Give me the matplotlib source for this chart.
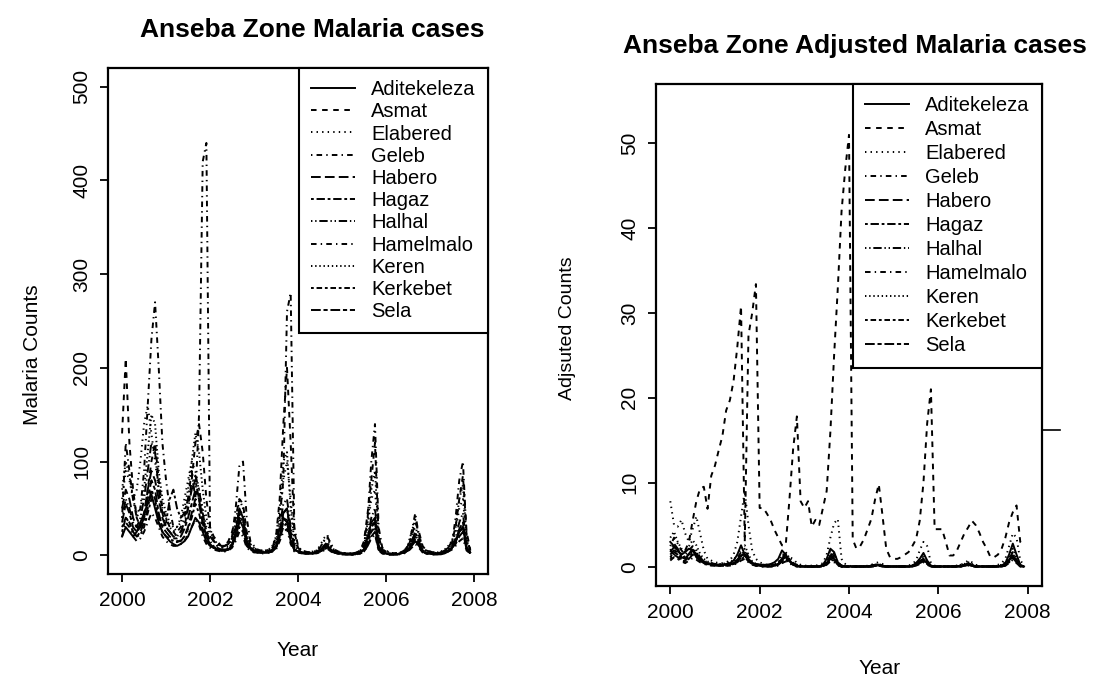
import matplotlib
matplotlib.use("Agg")
import matplotlib.pyplot as plt
from matplotlib.lines import Line2D

plt.rcParams['font.family'] = ['Liberation Sans', 'DejaVu Sans']
plt.rcParams['lines.scale_dashes'] = False

ZONES = ["Aditekeleza", "Asmat", "Elabered", "Geleb", "Habero", "Hagaz",
         "Halhal", "Hamelmalo", "Keren", "Kerkebet", "Sela"]
MONTHS = [2000 + i / 12 for i in range(96)]  # monthly, Jan 2000 - Dec 2007
YEAR_TICKS = [2000, 2002, 2004, 2006, 2008]

# ---- raw malaria counts (one row per year, Jan..Dec) ----
cases_aditekeleza = [20, 30, 25, 20, 25, 35, 45, 55, 65, 50, 35, 25,
                     20, 15, 12, 10, 12, 15, 20, 30, 40, 35, 25, 15,
                     10, 8, 6, 5, 5, 6, 10, 25, 50, 40, 15, 8,
                     5, 4, 3, 3, 3, 4, 8, 20, 40, 35, 15, 6,
                     4, 3, 2, 2, 2, 3, 5, 8, 10, 6, 3, 2,
                     2, 1, 1, 1, 2, 3, 6, 20, 35, 40, 10, 4,
                     2, 1, 1, 1, 2, 3, 5, 10, 15, 10, 4, 2,
                     2, 1, 1, 1, 2, 4, 8, 15, 25, 30, 8, 3]
cases_asmat = [130, 210, 120, 70, 40, 30, 40, 70, 100, 120, 80, 50,
               40, 30, 25, 20, 25, 30, 50, 80, 120, 140, 110, 60,
               30, 20, 15, 10, 10, 15, 25, 40, 60, 55, 25, 10,
               8, 5, 4, 4, 5, 8, 20, 60, 140, 200, 120, 25,
               8, 4, 3, 3, 3, 4, 6, 10, 12, 8, 4, 3,
               2, 2, 2, 2, 3, 5, 15, 45, 80, 120, 20, 6,
               4, 3, 2, 2, 3, 5, 8, 20, 35, 25, 10, 5,
               4, 3, 3, 3, 4, 8, 15, 30, 60, 85, 25, 6]
cases_elabered = [60, 90, 80, 60, 70, 100, 140, 160, 130, 100, 70, 50,
                  40, 30, 25, 30, 40, 60, 80, 100, 90, 70, 50, 30,
                  20, 15, 10, 8, 8, 10, 15, 30, 50, 40, 20, 10,
                  6, 5, 4, 4, 5, 8, 15, 35, 80, 100, 60, 15,
                  6, 4, 3, 3, 3, 5, 10, 18, 22, 10, 4, 3,
                  2, 2, 2, 2, 2, 4, 10, 30, 60, 70, 15, 5,
                  3, 2, 2, 2, 3, 5, 10, 20, 30, 20, 8, 4,
                  3, 2, 2, 3, 4, 8, 12, 25, 50, 60, 15, 5]
cases_geleb = [40, 120, 90, 60, 40, 50, 90, 160, 230, 270, 200, 120,
               80, 50, 30, 25, 30, 40, 60, 90, 60, 150, 420, 440,
               30, 15, 10, 8, 10, 12, 20, 50, 95, 100, 40, 15,
               10, 6, 5, 5, 6, 8, 15, 40, 80, 260, 280, 30,
               10, 5, 4, 3, 3, 5, 8, 15, 20, 12, 6, 4,
               3, 2, 2, 2, 3, 5, 10, 40, 100, 140, 30, 8,
               5, 3, 2, 2, 3, 5, 10, 25, 45, 20, 8, 5,
               4, 3, 2, 2, 3, 6, 12, 40, 80, 100, 20, 5]
cases_habero = [50, 70, 60, 40, 30, 30, 45, 70, 90, 80, 60, 40,
                30, 25, 20, 15, 15, 20, 30, 45, 60, 55, 35, 20,
                12, 8, 6, 5, 5, 6, 10, 20, 35, 30, 12, 6,
                4, 3, 3, 3, 3, 5, 10, 25, 45, 50, 25, 8,
                4, 3, 2, 2, 2, 3, 5, 8, 10, 6, 3, 2,
                2, 1, 1, 1, 2, 3, 6, 15, 30, 35, 8, 3,
                2, 1, 1, 1, 2, 3, 5, 12, 20, 12, 4, 2,
                2, 1, 1, 2, 3, 5, 8, 12, 20, 25, 6, 2]
cases_hagaz = [30, 40, 35, 25, 20, 25, 35, 50, 70, 60, 40, 30,
               35, 60, 70, 50, 40, 45, 60, 70, 80, 60, 40, 25,
               20, 15, 12, 10, 10, 12, 18, 30, 45, 35, 15, 8,
               5, 4, 3, 3, 3, 5, 8, 18, 30, 35, 20, 6,
               4, 3, 2, 2, 2, 3, 4, 6, 8, 5, 3, 2,
               2, 1, 1, 1, 1, 2, 4, 10, 20, 25, 6, 2,
               2, 1, 1, 1, 2, 3, 6, 15, 25, 15, 5, 2,
               2, 2, 2, 3, 5, 8, 10, 15, 25, 30, 8, 3]
cases_halhal = [40, 60, 50, 35, 30, 40, 60, 90, 120, 110, 70, 45,
                30, 25, 20, 20, 25, 35, 50, 70, 85, 70, 45, 25,
                15, 10, 8, 6, 6, 8, 12, 25, 40, 35, 15, 8,
                5, 4, 3, 3, 4, 6, 12, 30, 55, 60, 30, 10,
                5, 3, 2, 2, 2, 3, 5, 10, 14, 8, 3, 2,
                2, 1, 1, 1, 2, 3, 8, 20, 40, 50, 10, 3,
                2, 2, 1, 1, 2, 4, 8, 15, 22, 14, 5, 3,
                2, 2, 2, 3, 4, 6, 10, 18, 35, 45, 10, 3]
cases_hamelmalo = [20, 35, 30, 20, 15, 18, 25, 35, 45, 40, 30, 20,
                   15, 12, 10, 10, 12, 15, 22, 30, 38, 32, 20, 12,
                   8, 6, 5, 4, 4, 5, 8, 15, 25, 20, 8, 5,
                   3, 3, 2, 2, 3, 4, 6, 15, 25, 28, 12, 4,
                   3, 2, 2, 2, 2, 2, 3, 5, 7, 4, 2, 2,
                   1, 1, 1, 1, 1, 2, 4, 10, 18, 22, 5, 2,
                   1, 1, 1, 1, 1, 2, 4, 8, 12, 8, 3, 2,
                   1, 1, 1, 2, 3, 4, 6, 10, 15, 18, 5, 2]
cases_keren = [70, 100, 85, 60, 45, 50, 70, 110, 150, 140, 90, 60,
               45, 35, 30, 30, 35, 50, 70, 100, 130, 110, 70, 40,
               25, 18, 12, 10, 10, 12, 18, 35, 60, 50, 22, 12,
               8, 6, 5, 5, 6, 10, 20, 50, 100, 110, 50, 15,
               7, 5, 4, 3, 4, 5, 8, 15, 18, 10, 5, 3,
               3, 2, 2, 2, 3, 5, 12, 35, 70, 90, 20, 6,
               4, 3, 2, 2, 3, 5, 10, 25, 38, 22, 8, 4,
               3, 3, 3, 4, 6, 10, 15, 30, 60, 75, 18, 5]
cases_kerkebet = [25, 40, 35, 25, 20, 22, 30, 45, 60, 55, 35, 25,
                  20, 18, 15, 14, 16, 20, 28, 40, 55, 45, 28, 16,
                  10, 8, 6, 5, 5, 6, 10, 18, 30, 25, 10, 6,
                  4, 3, 3, 3, 3, 5, 8, 20, 35, 40, 18, 5,
                  3, 2, 2, 2, 2, 3, 4, 6, 8, 5, 2, 2,
                  1, 1, 1, 1, 2, 2, 5, 12, 25, 30, 6, 2,
                  2, 1, 1, 1, 2, 3, 5, 10, 16, 10, 4, 2,
                  2, 1, 2, 2, 3, 5, 8, 14, 25, 30, 7, 2]
cases_sela = [35, 55, 45, 30, 25, 30, 40, 60, 80, 70, 45, 30,
              25, 20, 18, 18, 20, 28, 40, 55, 70, 60, 35, 20,
              12, 9, 7, 6, 6, 7, 12, 22, 38, 30, 12, 7,
              4, 3, 3, 3, 4, 6, 10, 25, 45, 50, 22, 6,
              4, 3, 2, 2, 2, 3, 5, 8, 10, 6, 3, 2,
              2, 1, 1, 1, 2, 3, 6, 15, 30, 38, 8, 3,
              2, 1, 1, 1, 2, 3, 6, 12, 18, 12, 4, 2,
              2, 2, 2, 2, 3, 5, 8, 15, 28, 35, 8, 2]

# ---- adjusted counts ----
adj_aditekeleza = [3.0, 2.5, 2.0, 1.5, 1.8, 2.2, 2.0, 1.2, 0.8, 0.6, 0.5, 0.4,
                   0.3, 0.3, 0.3, 0.4, 0.5, 0.8, 1.5, 2.6, 1.5, 0.8, 0.5, 0.4,
                   0.3, 0.3, 0.3, 0.4, 0.6, 1.0, 2.0, 1.5, 0.8, 0.4, 0.2, 0.1,
                   0.1, 0.1, 0.1, 0.1, 0.1, 0.3, 1.0, 2.2, 1.8, 0.6, 0.2, 0.1,
                   0.1, 0.1, 0.1, 0.1, 0.1, 0.1, 0.2, 0.3, 0.3, 0.2, 0.1, 0.1,
                   0.1, 0.1, 0.1, 0.1, 0.1, 0.2, 0.5, 1.0, 1.7, 0.8, 0.2, 0.1,
                   0.1, 0.1, 0.1, 0.1, 0.1, 0.1, 0.2, 0.3, 0.5, 0.3, 0.1, 0.1,
                   0.1, 0.1, 0.1, 0.1, 0.1, 0.2, 0.5, 1.5, 2.8, 1.5, 0.3, 0.1]
adj_asmat = [2.0, 1.5, 1.0, 1.5, 2.0, 3.0, 5.5, 7.8, 9.3, 9.5, 6.9, 10.8,
             12.0, 13.8, 15.5, 18.5, 19.7, 22.0, 26.0, 30.8, 3.0, 27.4, 30.0, 33.4,
             7.0, 7.0, 6.3, 5.5, 4.4, 3.5, 2.6, 2.6, 8.0, 14.0, 17.8, 7.8,
             7.0, 7.8, 4.8, 5.6, 5.0, 7.0, 9.0, 16.0, 25.0, 33.0, 42.0, 47.0,
             51.0, 3.3, 2.2, 2.5, 3.3, 4.5, 5.7, 8.0, 9.8, 6.1, 2.2, 1.2,
             1.0, 1.0, 1.2, 1.5, 1.8, 2.5, 3.3, 5.5, 10.0, 17.0, 21.0, 4.5,
             4.5, 4.5, 3.0, 1.4, 1.4, 2.0, 3.0, 4.0, 4.7, 5.5, 5.0, 4.1,
             3.0, 2.2, 1.2, 1.2, 1.5, 2.2, 3.5, 5.3, 6.5, 7.3, 3.0, 2.5]
adj_elabered = [7.8, 5.0, 4.8, 5.6, 4.0, 3.0, 4.5, 6.0, 4.0, 2.0, 1.0, 0.8,
                0.6, 0.5, 0.5, 0.6, 0.8, 1.5, 3.0, 6.0, 9.0, 5.0, 2.0, 1.0,
                0.6, 0.4, 0.3, 0.3, 0.3, 0.4, 0.5, 0.8, 1.2, 1.0, 0.5, 0.3,
                0.2, 0.2, 0.2, 0.2, 0.3, 0.5, 1.5, 3.5, 5.2, 5.7, 1.0, 0.4,
                0.2, 0.1, 0.1, 0.1, 0.1, 0.2, 0.3, 0.5, 0.6, 0.4, 0.2, 0.1,
                0.1, 0.1, 0.1, 0.1, 0.2, 0.4, 0.8, 2.0, 3.0, 2.5, 0.5, 0.2,
                0.1, 0.1, 0.1, 0.1, 0.1, 0.2, 0.3, 0.5, 0.8, 0.6, 0.3, 0.2,
                0.1, 0.1, 0.1, 0.2, 0.3, 0.5, 1.0, 2.5, 4.0, 3.5, 0.8, 0.3]
adj_geleb = [2.5, 3.5, 2.8, 2.0, 1.5, 2.0, 2.5, 2.0, 1.2, 0.8, 0.6, 0.5,
             0.4, 0.3, 0.3, 0.3, 0.4, 0.6, 1.0, 1.8, 2.2, 1.2, 0.6, 0.4,
             0.3, 0.2, 0.2, 0.2, 0.3, 0.5, 1.2, 1.6, 1.0, 0.5, 0.3, 0.2,
             0.1, 0.1, 0.1, 0.1, 0.1, 0.2, 0.6, 1.6, 1.4, 0.5, 0.2, 0.1,
             0.1, 0.1, 0.1, 0.1, 0.1, 0.1, 0.2, 0.3, 0.3, 0.2, 0.1, 0.1,
             0.1, 0.1, 0.1, 0.1, 0.1, 0.2, 0.4, 0.8, 1.2, 0.6, 0.2, 0.1,
             0.1, 0.1, 0.1, 0.1, 0.1, 0.1, 0.2, 0.3, 0.4, 0.3, 0.1, 0.1,
             0.1, 0.1, 0.1, 0.1, 0.1, 0.2, 0.4, 1.0, 1.8, 1.0, 0.2, 0.1]
adj_habero = [1.5, 2.0, 1.8, 1.2, 1.0, 1.4, 2.0, 1.6, 1.0, 0.6, 0.4, 0.3,
              0.3, 0.2, 0.2, 0.3, 0.3, 0.5, 0.8, 1.4, 1.6, 0.9, 0.5, 0.3,
              0.2, 0.2, 0.2, 0.2, 0.2, 0.4, 0.9, 1.2, 0.7, 0.4, 0.2, 0.1,
              0.1, 0.1, 0.1, 0.1, 0.1, 0.2, 0.5, 1.2, 1.0, 0.4, 0.1, 0.1,
              0.1, 0.1, 0.1, 0.1, 0.1, 0.1, 0.1, 0.2, 0.2, 0.1, 0.1, 0.1,
              0.1, 0.1, 0.1, 0.1, 0.1, 0.1, 0.3, 0.6, 0.9, 0.5, 0.1, 0.1,
              0.1, 0.1, 0.1, 0.1, 0.1, 0.1, 0.1, 0.2, 0.3, 0.2, 0.1, 0.1,
              0.1, 0.1, 0.1, 0.1, 0.1, 0.1, 0.3, 0.8, 1.4, 0.8, 0.2, 0.1]
adj_hagaz = [1.0, 1.5, 1.2, 0.8, 0.7, 1.0, 1.5, 1.2, 0.8, 0.5, 0.3, 0.3,
             0.2, 0.2, 0.2, 0.2, 0.3, 0.4, 0.6, 1.0, 1.2, 0.7, 0.4, 0.2,
             0.2, 0.1, 0.1, 0.1, 0.2, 0.3, 0.7, 0.9, 0.6, 0.3, 0.1, 0.1,
             0.1, 0.1, 0.1, 0.1, 0.1, 0.1, 0.4, 0.9, 0.8, 0.3, 0.1, 0.1,
             0.1, 0.1, 0.1, 0.1, 0.1, 0.1, 0.1, 0.2, 0.2, 0.1, 0.1, 0.1,
             0.1, 0.1, 0.1, 0.1, 0.1, 0.1, 0.2, 0.5, 0.7, 0.4, 0.1, 0.1,
             0.1, 0.1, 0.1, 0.1, 0.1, 0.1, 0.1, 0.2, 0.3, 0.2, 0.1, 0.1,
             0.1, 0.1, 0.1, 0.1, 0.1, 0.1, 0.2, 0.6, 1.1, 0.6, 0.1, 0.1]
adj_halhal = [2.0, 2.8, 2.2, 1.6, 1.2, 1.6, 2.2, 1.8, 1.1, 0.7, 0.5, 0.4,
              0.3, 0.3, 0.3, 0.3, 0.4, 0.6, 0.9, 1.5, 1.9, 1.0, 0.5, 0.3,
              0.2, 0.2, 0.2, 0.2, 0.3, 0.4, 1.0, 1.4, 0.8, 0.4, 0.2, 0.1,
              0.1, 0.1, 0.1, 0.1, 0.1, 0.2, 0.5, 1.4, 1.2, 0.4, 0.2, 0.1,
              0.1, 0.1, 0.1, 0.1, 0.1, 0.1, 0.2, 0.2, 0.3, 0.2, 0.1, 0.1,
              0.1, 0.1, 0.1, 0.1, 0.1, 0.2, 0.3, 0.7, 1.0, 0.5, 0.2, 0.1,
              0.1, 0.1, 0.1, 0.1, 0.1, 0.1, 0.2, 0.3, 0.4, 0.2, 0.1, 0.1,
              0.1, 0.1, 0.1, 0.1, 0.1, 0.2, 0.3, 0.9, 1.6, 0.9, 0.2, 0.1]
adj_hamelmalo = [0.8, 1.2, 1.0, 0.7, 0.5, 0.8, 1.1, 0.9, 0.6, 0.4, 0.3, 0.2,
                 0.2, 0.2, 0.2, 0.2, 0.2, 0.3, 0.5, 0.8, 1.0, 0.6, 0.3, 0.2,
                 0.1, 0.1, 0.1, 0.1, 0.1, 0.2, 0.5, 0.7, 0.5, 0.2, 0.1, 0.1,
                 0.1, 0.1, 0.1, 0.1, 0.1, 0.1, 0.3, 0.7, 0.6, 0.2, 0.1, 0.1,
                 0.1, 0.1, 0.1, 0.1, 0.1, 0.1, 0.1, 0.1, 0.2, 0.1, 0.1, 0.1,
                 0.1, 0.1, 0.1, 0.1, 0.1, 0.1, 0.2, 0.4, 0.6, 0.3, 0.1, 0.1,
                 0.1, 0.1, 0.1, 0.1, 0.1, 0.1, 0.1, 0.2, 0.2, 0.1, 0.1, 0.1,
                 0.1, 0.1, 0.1, 0.1, 0.1, 0.1, 0.2, 0.5, 0.9, 0.5, 0.1, 0.1]
adj_keren = [3.5, 4.2, 3.0, 2.2, 1.8, 2.5, 3.2, 2.6, 1.6, 1.0, 0.7, 0.5,
             0.4, 0.4, 0.4, 0.5, 0.6, 0.9, 1.4, 2.2, 2.6, 1.5, 0.7, 0.4,
             0.3, 0.3, 0.3, 0.3, 0.4, 0.6, 1.4, 1.8, 1.1, 0.5, 0.3, 0.2,
             0.1, 0.1, 0.1, 0.1, 0.2, 0.3, 0.8, 1.9, 1.6, 0.6, 0.2, 0.1,
             0.1, 0.1, 0.1, 0.1, 0.1, 0.1, 0.2, 0.3, 0.4, 0.2, 0.1, 0.1,
             0.1, 0.1, 0.1, 0.1, 0.1, 0.2, 0.5, 1.0, 1.5, 0.7, 0.2, 0.1,
             0.1, 0.1, 0.1, 0.1, 0.1, 0.2, 0.3, 0.4, 0.6, 0.4, 0.2, 0.1,
             0.1, 0.1, 0.1, 0.1, 0.2, 0.3, 0.6, 1.3, 2.2, 1.2, 0.3, 0.1]
adj_kerkebet = [1.2, 1.8, 1.5, 1.0, 0.8, 1.2, 1.7, 1.4, 0.9, 0.5, 0.4, 0.3,
                0.2, 0.2, 0.2, 0.2, 0.3, 0.4, 0.7, 1.1, 1.4, 0.8, 0.4, 0.2,
                0.2, 0.1, 0.1, 0.1, 0.2, 0.3, 0.8, 1.1, 0.7, 0.3, 0.2, 0.1,
                0.1, 0.1, 0.1, 0.1, 0.1, 0.1, 0.4, 1.0, 0.9, 0.3, 0.1, 0.1,
                0.1, 0.1, 0.1, 0.1, 0.1, 0.1, 0.1, 0.2, 0.2, 0.1, 0.1, 0.1,
                0.1, 0.1, 0.1, 0.1, 0.1, 0.1, 0.3, 0.6, 0.8, 0.4, 0.1, 0.1,
                0.1, 0.1, 0.1, 0.1, 0.1, 0.1, 0.1, 0.2, 0.3, 0.2, 0.1, 0.1,
                0.1, 0.1, 0.1, 0.1, 0.1, 0.1, 0.3, 0.7, 1.2, 0.7, 0.1, 0.1]
adj_sela = [1.8, 2.4, 2.0, 1.4, 1.1, 1.5, 2.1, 1.7, 1.0, 0.6, 0.4, 0.3,
            0.3, 0.3, 0.3, 0.3, 0.4, 0.5, 0.8, 1.3, 1.7, 0.9, 0.5, 0.3,
            0.2, 0.2, 0.2, 0.2, 0.3, 0.4, 1.0, 1.3, 0.8, 0.4, 0.2, 0.1,
            0.1, 0.1, 0.1, 0.1, 0.1, 0.2, 0.5, 1.3, 1.1, 0.4, 0.1, 0.1,
            0.1, 0.1, 0.1, 0.1, 0.1, 0.1, 0.2, 0.2, 0.3, 0.2, 0.1, 0.1,
            0.1, 0.1, 0.1, 0.1, 0.1, 0.2, 0.3, 0.7, 1.0, 0.5, 0.1, 0.1,
            0.1, 0.1, 0.1, 0.1, 0.1, 0.1, 0.2, 0.2, 0.3, 0.2, 0.1, 0.1,
            0.1, 0.1, 0.1, 0.1, 0.1, 0.2, 0.3, 0.8, 1.4, 0.8, 0.2, 0.1]

CASES = [cases_aditekeleza, cases_asmat, cases_elabered, cases_geleb, cases_habero,
         cases_hagaz, cases_halhal, cases_hamelmalo, cases_keren, cases_kerkebet, cases_sela]
ADJUSTED = [adj_aditekeleza, adj_asmat, adj_elabered, adj_geleb, adj_habero,
            adj_hagaz, adj_halhal, adj_hamelmalo, adj_keren, adj_kerkebet, adj_sela]

# R-like line types (in points)
DASHES = [None, (4, 4), (1, 3), (1, 3, 4, 3), (7, 3), (2, 2, 6, 2),
          (1, 2, 1, 2, 6, 2), (4, 3, 1, 3), (1, 2), (2, 2, 4, 2), (7, 2, 3, 2)]

W, H = 1095, 685
fig = plt.figure(figsize=(W / 100, H / 100), dpi=100)


def px_axes(l, t, r, b):
    return fig.add_axes([l / W, 1 - b / H, (r - l) / W, (b - t) / H])


def draw_panel(ax, series, ylim, yticks, spacing):
    for name, vals, d in zip(ZONES, series, DASHES):
        line, = ax.plot(MONTHS, vals, color='black', lw=1.4, label=name)
        if d:
            line.set_dashes(d)
    ax.set_xlim(1999.68, 2008.32)
    ax.set_ylim(*ylim)
    ax.set_xticks(YEAR_TICKS)
    ax.set_yticks(yticks)
    ax.tick_params(direction='out', length=6, width=1.3, labelsize=15, pad=6)
    for lbl in ax.get_yticklabels():
        lbl.set_rotation(90)
        lbl.set_va('center')
    for s in ax.spines.values():
        s.set_linewidth(1.6)
    leg = ax.legend(loc='upper right', borderaxespad=0, fontsize=14.5,
                    fancybox=False, framealpha=1, edgecolor='black',
                    handlelength=2.2, handletextpad=0.8, labelspacing=spacing,
                    borderpad=0.6)
    leg.get_frame().set_linewidth(1.5)


ax1 = px_axes(108, 68, 488, 574)
draw_panel(ax1, CASES, (-20, 520), [0, 100, 200, 300, 400, 500], 0.16)
ax2 = px_axes(656, 84, 1042, 586)
draw_panel(ax2, ADJUSTED, (-2.2, 57), [0, 10, 20, 30, 40, 50], 0.25)

fig.text(312 / W, 1 - 30 / H, "Anseba Zone Malaria cases", fontsize=19,
         fontweight='bold', ha='center', va='center')
fig.text(855 / W, 1 - 46 / H, "Anseba Zone Adjusted Malaria cases", fontsize=19,
         fontweight='bold', ha='center', va='center')
fig.text(32 / W, 1 - 355 / H, "Malaria Counts", fontsize=15, rotation=90,
         ha='center', va='center')
fig.text(568 / W, 1 - 328 / H, "Adjsuted Counts", fontsize=14, rotation=90,
         ha='center', va='center')
fig.text(298 / W, 1 - 650 / H, "Year", fontsize=15, ha='center', va='center')
fig.text(880 / W, 1 - 668 / H, "Year", fontsize=15, ha='center', va='center')

# small stray mark right of the second panel
fig.add_artist(Line2D([1043 / W, 1060 / W], [1 - 430 / H, 1 - 430 / H],
                      color='black', lw=1.2))

fig.savefig("out.png", dpi=100)
